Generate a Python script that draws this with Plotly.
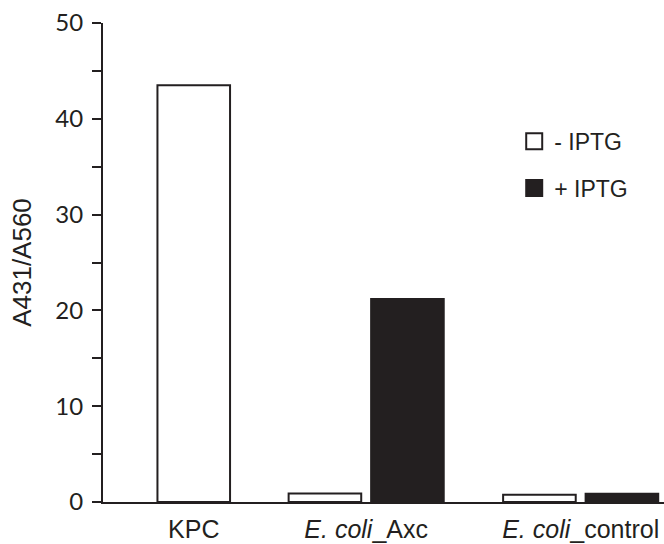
import plotly.graph_objects as go

# ---- data ----
categories = ["KPC", "<i>E. coli</i>_Axc", "<i>E. coli</i>_control"]
group_pos = [1.10, 3.19, 5.79]          # group centres on the numeric x axis
minus_iptg = [43.5, 0.9, 0.75]          # - IPTG
plus_iptg = [None, 21.2, 0.85]          # + IPTG (no KPC bar)
series_names = ["- IPTG", "+ IPTG"]
y_ticks = [0, 10, 20, 30, 40, 50]

INK = "#231f20"
half = 0.5
bar_w = 0.88

# positions of the bars
minus_x = [g if p is None else g - half for g, p in zip(group_pos, plus_iptg)]
plus_x = [g + half for g, p in zip(group_pos, plus_iptg) if p is not None]
plus_y = [p for p in plus_iptg if p is not None]

fig = go.Figure()
fig.add_trace(go.Bar(x=minus_x, y=minus_iptg, width=bar_w, showlegend=False,
                     marker=dict(color="white", line=dict(color=INK, width=2))))
fig.add_trace(go.Bar(x=plus_x, y=plus_y, width=bar_w, showlegend=False,
                     marker=dict(color=INK, line=dict(color=INK, width=2))))

# legend entries
for name, fill, grp in zip(series_names, ["white", INK], ["a", "b"]):
    fig.add_trace(go.Scatter(x=[None], y=[None], mode="markers", name=name,
                             legendgroup=grp,
                             marker=dict(symbol="square", size=16, color=fill,
                                         line=dict(color=INK, width=2))))

fig.update_layout(
    width=664, height=544,
    margin=dict(l=103, r=0, t=23, b=42),
    paper_bgcolor="white", plot_bgcolor="white",
    font=dict(family="Liberation Sans, Arial, sans-serif", size=23, color=INK),
    barmode="overlay",
    legend=dict(x=0.733, xanchor="left", y=0.798, yanchor="top",
                traceorder="grouped", tracegroupgap=14,
                font=dict(size=23, color=INK), bgcolor="rgba(0,0,0,0)"),
    xaxis=dict(range=[0, 6.8], showline=True, linewidth=2, linecolor=INK,
               tickvals=group_pos, ticktext=categories, ticks="",
               showgrid=False, zeroline=False, ticklabelstandoff=4,
               tickfont=dict(size=25, color=INK)),
    yaxis=dict(range=[0, 50], showline=True, linewidth=2, linecolor=INK,
               tickvals=y_ticks, ticks="outside", ticklen=9, tickwidth=2,
               tickcolor=INK, showgrid=False, zeroline=False,
               ticklabelstandoff=4,
               tickfont=dict(family="Lato, sans-serif", size=24, color=INK),
               minor=dict(dtick=5, ticks="outside", ticklen=9, tickwidth=2,
                          tickcolor=INK, showgrid=False),
               title=dict(text="A431/A560", standoff=16,
                          font=dict(size=26, color=INK))),
)

fig.write_html("out.html")
